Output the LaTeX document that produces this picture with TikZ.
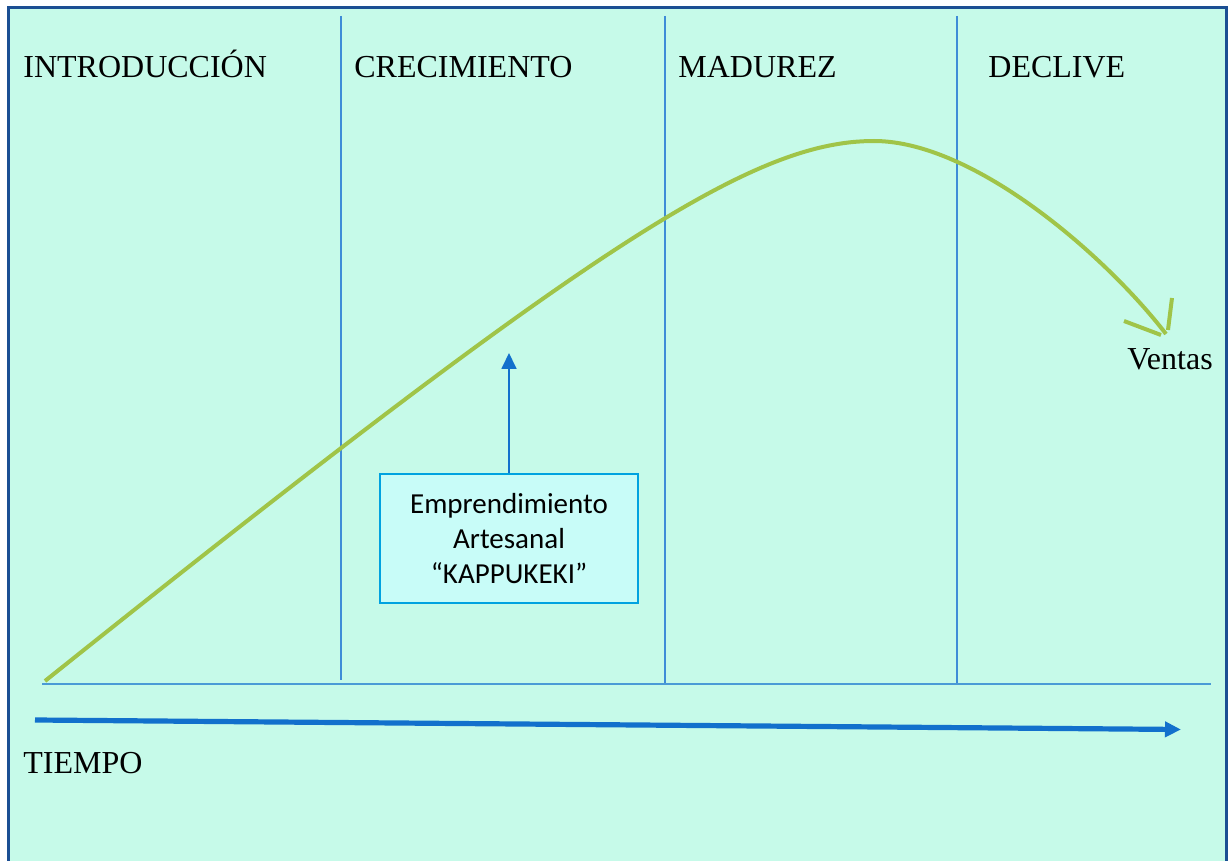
\documentclass[tikz,border=0pt]{standalone}
\usepackage{fontspec}
\setmainfont{Liberation Serif}
\newfontfamily\carlitofont{Carlito}
\usetikzlibrary{arrows.meta}
\definecolor{mint}{RGB}{198,250,233}
\definecolor{framecol}{RGB}{27,79,147}
\definecolor{divcol}{RGB}{62,140,215}
\definecolor{basecol}{RGB}{74,154,214}
\definecolor{timecol}{RGB}{18,112,204}
\definecolor{curvecol}{RGB}{160,196,72}
\definecolor{boxborder}{RGB}{0,162,224}
\definecolor{boxfill}{RGB}{200,252,248}
\begin{document}
\begin{tikzpicture}[x=0.5pt,y=-0.5pt,
  stagelabel/.style={anchor=base west, inner sep=0pt, font=\fontsize{16}{19}\selectfont},
  divider/.style={draw=divcol, line width=0.75pt},
  salescurve/.style={draw=curvecol, line width=2pt},
  infobox/.style={draw=boxborder, line width=1.4pt, fill=boxfill, minimum width=129pt, minimum height=64.5pt, align=center, inner sep=0pt, font=\carlitofont\fontsize{14.5}{17.5}\selectfont},
  pointer/.style={draw=timecol, line width=0.9pt, -{Triangle[length=8pt,width=7.5pt]}},
  timearrow/.style={draw=timecol, line width=2.6pt, -{Triangle[length=8pt,width=7.5pt]}}
]
\useasboundingbox (0,0) rectangle (1228,861);
\fill[white] (0,0) rectangle (1228,861);
\fill[mint] (8,8) rectangle (1227,861);
\draw[framecol, line width=1.5pt] (8.5,861) -- (8.5,8) -- (1226.5,8) -- (1226.5,861);
% dividers
\draw[divider] (341,16) -- (341,680);
\draw[divider] (665,16) -- (665,684);
\draw[divider] (957,16) -- (957,684);
% baseline
\draw[draw=basecol, line width=1.3pt] (42,684) -- (1211,684);
% labels
\node[stagelabel] (intro) at (23,78) {INTRODUCCIÓN};
\node[stagelabel] (crec) at (354,78) {CRECIMIENTO};
\node[stagelabel] (mad) at (678,78) {MADUREZ};
\node[stagelabel] (decl) at (988,78) {DECLIVE};
\node[stagelabel] (ventas) at (1127,370) {Ventas};
\node[stagelabel] (tiempo) at (23,773) {TIEMPO};
% sales curve
\draw[salescurve] (45,681) .. controls (595,241) and (754,141) .. (874,141)
  .. controls (974,141) and (1106,256) .. (1166,334);
\draw[salescurve] (1124,321) -- (1161,335);
\draw[salescurve] (1172,298) -- (1168,330);
% box and pointer
\node[infobox] (box) at (509,538.5) {Emprendimiento\\Artesanal\\“KAPPUKEKI”};
\coordinate (ptip) at (509,353);
\draw[pointer] (box.north) -- (ptip);
% time arrow
\coordinate (tstart) at (35,720);
\coordinate (tend) at (1181,729.5);
\draw[timearrow] (tstart) -- (tend);
\end{tikzpicture}
\end{document}
